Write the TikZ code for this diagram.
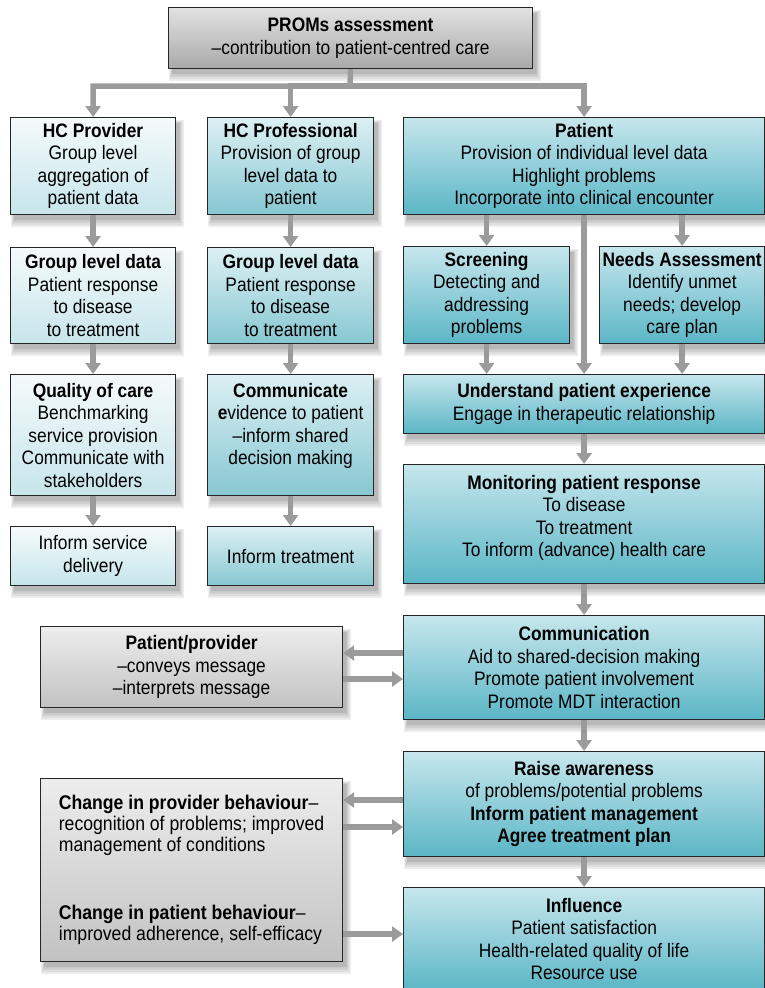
\documentclass[tikz,border=0pt]{standalone}
\usepackage{fontspec}
\setmainfont[FakeStretch=0.89]{Liberation Sans}
\usetikzlibrary{arrows.meta}

\definecolor{arrgray}{HTML}{9B9B9B}
\definecolor{paleTop}{HTML}{F5FAFB}
\definecolor{paleBot}{HTML}{C6E5EB}
\definecolor{midTop}{HTML}{DCF0F3}
\definecolor{midBot}{HTML}{86C7D2}
\definecolor{deepTop}{HTML}{C6E6EC}
\definecolor{deepBot}{HTML}{5BB6C6}
\definecolor{greyTop}{HTML}{EDEDED}
\definecolor{greyBot}{HTML}{C2C2C2}
\definecolor{headTop}{HTML}{E2E2E2}
\definecolor{headBot}{HTML}{A9A9A9}
\definecolor{haloA}{HTML}{EEEEEE}
\definecolor{haloB}{HTML}{DEDEDE}
\definecolor{haloC}{HTML}{CCCCCC}
\definecolor{haloD}{HTML}{B8B8B8}

\tikzset{
  box/.style={draw=black!85, line width=1.2pt, anchor=north west, align=center,
    inner sep=2pt, text=black,
    font=\fontsize{19.5}{22.5}\selectfont},
  pale/.style={top color=paleTop, bottom color=paleBot},
  mid/.style={top color=midTop, bottom color=midBot},
  deep/.style={top color=deepTop, bottom color=deepBot},
  grey/.style={top color=greyTop, bottom color=greyBot},
  head/.style={top color=headTop, bottom color=headBot},
  arr/.style={draw=arrgray, line width=5.5pt,
    -{Triangle[width=15pt,length=11pt]}},
}

% L-shaped band of shadow along the right and lower sides of node #1:
% colour #2, starts #3 below the top, reaches #4 to the right,
% #5 below the bottom, and starts #6 right of the left side
\newcommand{\shadowband}[6]{%
  \fill[fill=#2] ([yshift=-#3]#1.north east) -- ([xshift=#4,yshift=-#3]#1.north east)
    -- ([xshift=#4,yshift=-#5]#1.south east) -- ([xshift=#6,yshift=-#5]#1.south west)
    -- ([xshift=#6]#1.south west) -- (#1.south east) -- cycle;}

\begin{document}
\begin{tikzpicture}[x=1pt,y=-1pt]
\useasboundingbox (0,0) rectangle (765,988);

% header
\node[box,head,minimum width=364pt,minimum height=61pt] (proms) at (168,7)
  {\textbf{PROMs assessment}\\–contribution to patient-centred care};

% three entry points
\node[box,pale,minimum width=165pt,minimum height=97pt] (hcprov) at (10,117)
  {\textbf{HC Provider}\\Group level\\aggregation of\\patient data};
\node[box,mid,minimum width=166pt,minimum height=97pt] (hcprof) at (207,117)
  {\textbf{HC Professional}\\Provision of group\\level data to\\patient};
\node[box,deep,minimum width=361pt,minimum height=97pt] (patient) at (403,117)
  {\textbf{Patient}\\Provision of individual level data\\Highlight problems\\Incorporate into clinical encounter};

% provider column
\node[box,pale,minimum width=165pt,minimum height=96pt] (gld1) at (10,247)
  {\textbf{Group level data}\\Patient response\\to disease\\to treatment};
\node[box,pale,minimum width=165pt,minimum height=121pt] (quality) at (10,374)
  {\textbf{Quality of care}\\Benchmarking\\service provision\\Communicate with\\stakeholders};
\node[box,pale,minimum width=165pt,minimum height=59pt] (service) at (10,526)
  {Inform service\\delivery};

% professional column
\node[box,mid,minimum width=166pt,minimum height=96pt] (gld2) at (207,247)
  {\textbf{Group level data}\\Patient response\\to disease\\to treatment};
\node[box,mid,minimum width=166pt,minimum height=121pt,text depth=22pt] (communicate) at (207,374)
  {\textbf{Communicate}\\\textbf{e}vidence to patient\\–inform shared\\decision making};
\node[box,mid,minimum width=166pt,minimum height=59pt] (treat) at (207,526)
  {Inform treatment};

% patient column
\node[box,deep,minimum width=166pt,minimum height=97pt] (screening) at (403,246)
  {\textbf{Screening}\\Detecting and\\addressing\\problems};
\node[box,deep,minimum width=165pt,minimum height=97pt] (needs) at (599,246)
  {\textbf{Needs Assessment}\\Identify unmet\\needs; develop\\care plan};
\node[box,deep,minimum width=361pt,minimum height=59pt] (understand) at (403,374)
  {\textbf{Understand patient experience}\\Engage in therapeutic relationship};
\node[box,deep,minimum width=361pt,minimum height=119pt,text depth=16pt] (monitor) at (403,464)
  {\textbf{Monitoring patient response}\\To disease\\To treatment\\To inform (advance) health care};
\node[box,deep,minimum width=361pt,minimum height=104pt] (comm) at (403,615)
  {\textbf{Communication}\\Aid to shared-decision making\\Promote patient involvement\\Promote MDT interaction};
\node[box,deep,minimum width=361pt,minimum height=105pt] (raise) at (403,751)
  {\textbf{Raise awareness}\\of problems/potential problems\\\textbf{Inform patient management}\\\textbf{Agree treatment plan}};
\node[box,deep,minimum width=361pt,minimum height=103pt] (influence) at (403,887)
  {\textbf{Influence}\\Patient satisfaction\\Health-related quality of life\\Resource use};

% side boxes
\node[box,grey,minimum width=302pt,minimum height=81pt] (pp) at (40,626)
  {\textbf{Patient/provider}\\–conveys message\\–interprets message};
\node[box,grey,minimum width=302pt,minimum height=183pt,align=left,
      font=\fontsize{19.8}{21}\selectfont] (change) at (40,778)
  {\textbf{Change in provider behaviour}–\\recognition of problems; improved\\management of conditions\\[47pt]
   \textbf{Change in patient behaviour}–\\improved adherence, self-efficacy};

% soft shadows outside the lower right of every box
\foreach \n in {proms,hcprov,hcprof,patient,gld1,quality,service,gld2,communicate,treat,screening,needs,understand,monitor,comm,raise,pp,change}{
  \shadowband{\n}{haloA}{3pt}{8pt}{12pt}{1pt}
  \shadowband{\n}{haloB}{4pt}{6.5pt}{10pt}{2pt}
  \shadowband{\n}{haloC}{5pt}{5pt}{7.5pt}{3pt}
  \shadowband{\n}{haloD}{6pt}{3.5pt}{5pt}{4pt}
}

% branching from the header
\coordinate (hub) at (350,86);
\draw[arr] (proms.south) -- (hub) -| (hcprov.north);
\draw[arr] (hub) -| (hcprof.north);
\draw[arr] (hub) -| (patient.north);

% provider and professional columns
\draw[arr] (hcprov) -- (gld1);
\draw[arr] (gld1) -- (quality);
\draw[arr] (quality) -- (service);
\draw[arr] (hcprof) -- (gld2);
\draw[arr] (gld2) -- (communicate);
\draw[arr] (communicate) -- (treat);

% patient column
\draw[arr] (patient.south -| screening.north) -- (screening.north);
\draw[arr] (patient.south -| needs.north) -- (needs.north);
\draw[arr] (patient.south) -- (understand.north);
\draw[arr] (screening.south) -- (understand.north -| screening.south);
\draw[arr] (needs.south) -- (understand.north -| needs.south);
\draw[arr] (understand) -- (monitor);
\draw[arr] (monitor) -- (comm);
\draw[arr] (comm) -- (raise);
\draw[arr] (raise) -- (influence);

% side exchanges
\draw[arr] (comm.west |- 0,653) -- (pp.east |- 0,653);
\draw[arr] (pp.east |- 0,679) -- (comm.west |- 0,679);
\draw[arr] (raise.west |- 0,800) -- (change.east |- 0,800);
\draw[arr] (change.east |- 0,827) -- (raise.west |- 0,827);
\draw[arr] (change.east |- 0,934) -- (influence.west |- 0,934);
\end{tikzpicture}
\end{document}
